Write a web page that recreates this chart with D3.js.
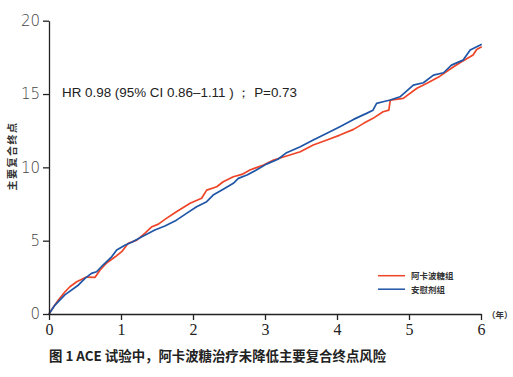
<!DOCTYPE html>
<html>
<head>
    <style>
        body { margin: 0; background: #fff; }
        .curve { fill: none; stroke-width: 1.7; stroke-linejoin: round; }
        .tick line, .domain { stroke: #222; stroke-width: 1.3; }
        .xax text { font-family: "Liberation Serif", "DejaVu Serif", serif; font-size: 16px; fill: #222; }
        .yax text { font-family: "DejaVu Sans", sans-serif; font-weight: 300; font-size: 15px; fill: #444; }
    </style>
    <script src="https://d3js.org/d3.v7.min.js"></script>
</head>
<body>

<svg width="513" height="377"></svg>

<script>
    // cumulative incidence (%), [year, value]
    var acarbose = [
        [0, 0], [0.05, 0.4], [0.13, 0.95], [0.22, 1.5], [0.29, 1.86], [0.385, 2.2], [0.52, 2.52],
        [0.64, 2.5], [0.71, 3.0], [0.8, 3.48], [0.92, 3.9], [1.01, 4.25], [1.10, 4.82],
        [1.22, 5.04], [1.33, 5.5], [1.43, 5.95], [1.52, 6.13], [1.61, 6.45], [1.77, 6.97],
        [1.96, 7.55], [2.12, 7.89], [2.19, 8.45], [2.33, 8.68], [2.42, 9.02], [2.56, 9.36],
        [2.68, 9.52], [2.79, 9.82], [2.98, 10.16], [3.12, 10.5], [3.30, 10.77], [3.49, 11.06],
        [3.67, 11.52], [3.86, 11.86], [4.04, 12.2], [4.23, 12.59], [4.37, 13.0], [4.50, 13.34],
        [4.64, 13.79], [4.72, 13.9], [4.74, 14.59], [4.92, 14.7], [5.11, 15.39], [5.25, 15.73],
        [5.43, 16.22], [5.62, 16.86], [5.73, 17.2], [5.89, 17.66], [5.94, 18.04], [6.01, 18.22]
    ];
    var placebo = [
        [0, 0], [0.083, 0.61], [0.22, 1.3], [0.41, 1.98], [0.5, 2.43], [0.59, 2.77], [0.66, 2.88],
        [0.75, 3.34], [0.87, 3.9], [0.94, 4.36], [1.06, 4.7], [1.15, 4.89], [1.29, 5.27],
        [1.47, 5.73], [1.61, 6.0], [1.77, 6.4], [1.91, 6.86], [2.05, 7.31], [2.19, 7.66],
        [2.28, 8.11], [2.42, 8.5], [2.56, 8.91], [2.63, 9.25], [2.75, 9.48], [2.88, 9.82],
        [3.02, 10.22], [3.18, 10.55], [3.30, 11.0], [3.49, 11.4], [3.67, 11.86], [3.86, 12.32],
        [4.04, 12.77], [4.23, 13.27], [4.41, 13.68], [4.50, 13.9], [4.55, 14.36], [4.64, 14.47],
        [4.74, 14.59], [4.875, 14.81], [5.06, 15.61], [5.2, 15.77], [5.34, 16.29], [5.48, 16.45],
        [5.59, 16.97], [5.75, 17.31], [5.85, 18.0], [5.99, 18.34], [6.01, 18.4]
    ];
    var xTicks = [0, 1, 2, 3, 4, 5, 6];
    var yTicks = [0, 5, 10, 15, 20];
    var seriesNames = ["阿卡波糖组", "安慰剂组"];
    var seriesColors = ["#ee4427", "#1f55a6"];

    var svg = d3.select("svg");

    var xScale = d3.scaleLinear().domain([0, 6]).range([49, 481]);
    var yScale = d3.scaleLinear().domain([0, 20]).range([314, 20.7]);

    var line = d3.line()
        .x(function(d) { return xScale(d[0]); })
        .y(function(d) { return yScale(d[1]); });

    [acarbose, placebo].forEach(function(s, i) {
        svg.append("path")
            .datum(s)
            .attr("class", "curve")
            .attr("stroke", seriesColors[i])
            .attr("d", line);
    });

    svg.append("g")
        .attr("class", "xax")
        .attr("transform", "translate(0," + yScale(0) + ")")
        .call(d3.axisBottom(xScale).tickValues(xTicks).tickFormat(d3.format("d"))
            .tickSize(6).tickSizeOuter(0).tickPadding(4));

    svg.append("g")
        .attr("class", "yax")
        .attr("transform", "translate(" + xScale(0) + ",0)")
        .call(d3.axisLeft(yScale).tickValues(yTicks).tickFormat(d3.format("d"))
            .tickSize(6).tickSizeOuter(0).tickPadding(3));

    // y axis title
    svg.append("text")
        .attr("transform", "translate(16,156) rotate(-90)")
        .attr("text-anchor", "middle")
        .attr("font-family", "Noto Sans CJK SC")
        .attr("font-weight", "bold")
        .attr("font-size", 10)
        .attr("letter-spacing", 1.5)
        .attr("fill", "#333")
        .text("主要复合终点");

    svg.append("text")
        .attr("x", 487).attr("y", 318)
        .attr("font-family", "Noto Sans CJK SC")
        .attr("font-weight", "bold")
        .attr("font-size", 8.5)
        .attr("fill", "#333")
        .text("（年）");

    svg.append("text")
        .attr("x", 62).attr("y", 96.5)
        .attr("font-family", "Liberation Sans, Arial, sans-serif")
        .attr("font-size", 13.4)
        .attr("fill", "#222")
        .text("HR 0.98 (95% CI 0.86–1.11 ) ； P=0.73");

    // legend
    var legend = svg.append("g");
    seriesNames.forEach(function(name, i) {
        var y = 275.7 + i * 13.5;
        legend.append("line")
            .attr("x1", 378).attr("x2", 405)
            .attr("y1", y).attr("y2", y)
            .attr("stroke", seriesColors[i])
            .attr("stroke-width", 1.5);
        legend.append("text")
            .attr("x", 411).attr("y", y + 3.3)
            .attr("font-family", "Noto Sans CJK SC")
            .attr("font-weight", "bold")
            .attr("font-size", 8.5)
            .attr("fill", "#333")
            .text(name);
    });

    svg.append("text")
        .attr("x", 49).attr("y", 361)
        .attr("font-family", "Noto Sans CJK SC")
        .attr("font-weight", "bold")
        .attr("font-size", 13.4)
        .attr("fill", "#222")
        .text("图 1 ACE 试验中，阿卡波糖治疗未降低主要复合终点风险");
</script>
</body>
</html>
